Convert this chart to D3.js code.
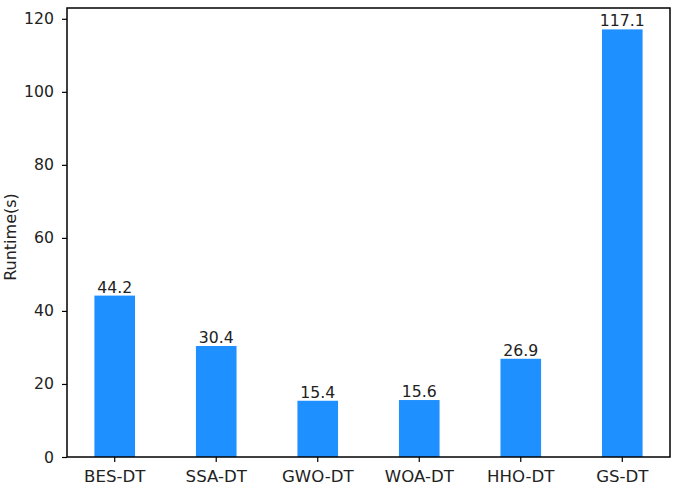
<!DOCTYPE html>
<html>
<head>
<meta charset="utf-8">
<script src="https://cdn.jsdelivr.net/npm/d3@7"></script>
<style>
  body { margin: 0; background: #fff; }
  text { font-family: "DejaVu Sans", sans-serif; fill: #222; }
</style>
</head>
<body>
<div id="chart"></div>
<script>
// runtime per method
let methods = ["BES-DT", "SSA-DT", "GWO-DT", "WOA-DT", "HHO-DT", "GS-DT"];
let runtimes = [44.2, 30.4, 15.4, 15.6, 26.9, 117.1];
let yTicks = [0, 20, 40, 60, 80, 100, 120];

let showBarChart = () => {
    const w = 677, h = 489;
    const margin = {top: 8, right: 7, bottom: 32, left: 67};

    const svg = d3.select("#chart")
        .append("svg")
        .attr("width", w)
        .attr("height", h);

    const x = d3.scaleBand()
        .domain(methods)
        .range([margin.left, w - margin.right])
        .paddingInner(0.6)
        .paddingOuter(0.27);

    const y = d3.scaleLinear()
        .domain([0, d3.max(runtimes) * 1.05])
        .range([h - margin.bottom, margin.top]);

    // bars
    svg.selectAll("rect.bar")
        .data(runtimes)
        .enter()
        .append("rect")
        .attr("class", "bar")
        .attr("x", (d, i) => x(methods[i]))
        .attr("y", d => y(d))
        .attr("width", x.bandwidth())
        .attr("height", d => y(0) - y(d))
        .attr("fill", "#1e90ff");

    // value labels
    svg.selectAll("text.val")
        .data(runtimes)
        .enter()
        .append("text")
        .attr("class", "val")
        .attr("x", (d, i) => x(methods[i]) + x.bandwidth() / 2)
        .attr("y", d => y(d) - 3)
        .attr("text-anchor", "middle")
        .style("font-size", "15.7px")
        .text(d => d.toFixed(1));

    // axes
    const xAxis = svg.append("g")
        .attr("transform", "translate(0," + (h - margin.bottom) + ")")
        .call(d3.axisBottom(x).tickSize(5).tickPadding(8).tickSizeOuter(0));
    xAxis.selectAll("text").style("font-size", "16.6px");

    const yAxis = svg.append("g")
        .attr("transform", "translate(" + margin.left + ",0)")
        .call(d3.axisLeft(y).tickValues(yTicks).tickSize(5).tickPadding(8).tickSizeOuter(0));
    yAxis.selectAll("text").style("font-size", "15.7px");

    svg.selectAll(".domain").remove();
    svg.selectAll(".tick line").attr("stroke", "#000").attr("stroke-width", 1.2);

    // frame
    svg.append("rect")
        .attr("x", margin.left)
        .attr("y", margin.top)
        .attr("width", w - margin.left - margin.right)
        .attr("height", h - margin.top - margin.bottom)
        .attr("fill", "none")
        .attr("stroke", "#000")
        .attr("stroke-width", 1.5);

    svg.append("text")
        .attr("transform", "translate(16,237) rotate(-90)")
        .attr("text-anchor", "middle")
        .style("font-size", "16px")
        .text("Runtime(s)");
}

showBarChart();
</script>
</body>
</html>
